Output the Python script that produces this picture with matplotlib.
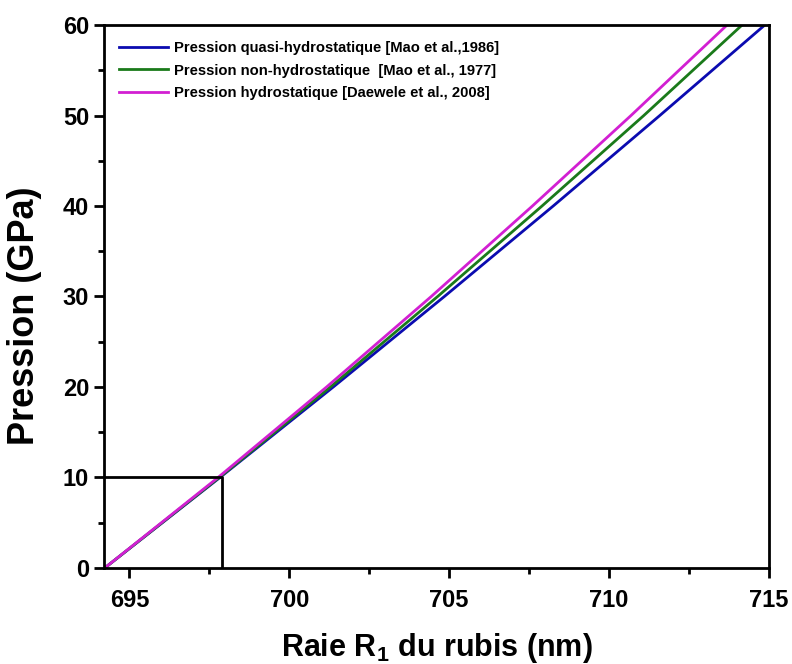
import matplotlib
matplotlib.use("Agg")
import matplotlib.pyplot as plt
from matplotlib.ticker import MultipleLocator

plt.rcParams['font.family'] = ['Liberation Sans', 'DejaVu Sans']
plt.rcParams['font.weight'] = 'bold'
plt.rcParams['mathtext.fontset'] = 'custom'
plt.rcParams['mathtext.rm'] = 'Liberation Sans'

# pressure (GPa) and ruby R1 line position (nm)
pression = [0, 10, 20, 30, 40, 50, 60]
raie_quasi = [694.24, 697.84, 701.38, 704.85, 708.25, 711.58, 714.86]
raie_non = [694.24, 697.82, 701.29, 704.64, 707.90, 711.08, 714.15]
raie_hydro = [694.24, 697.78, 701.17, 704.44, 707.60, 710.68, 713.68]

labels = ["Pression quasi-hydrostatique [Mao et al.,1986]",
          "Pression non-hydrostatique  [Mao et al., 1977]",
          "Pression hydrostatique [Daewele et al., 2008]"]
colors = ["#0b0bb0", "#1a7a1a", "#d21fd2"]

# reference mark (10 GPa)
ref_p = 10
ref_x = 697.9

fig = plt.figure(figsize=(7.92, 6.64), dpi=100)
ax = fig.add_axes([0.131, 0.145, 0.84, 0.817])

for xs, lab, c in zip([raie_quasi, raie_non, raie_hydro], labels, colors):
    ax.plot(xs, pression, color=c, lw=2, label=lab)

ax.plot([694.2, ref_x, ref_x], [ref_p, ref_p, 0], color="black", lw=2)

ax.set_xlim(694.2, 715)
ax.set_ylim(0, 60)
ax.xaxis.set_major_locator(MultipleLocator(5))
ax.xaxis.set_minor_locator(MultipleLocator(2.5))
ax.yaxis.set_major_locator(MultipleLocator(10))
ax.yaxis.set_minor_locator(MultipleLocator(5))
ax.tick_params(which='major', direction='out', length=7, width=2, labelsize=17)
ax.tick_params(axis='x', which='major', pad=8)
ax.tick_params(which='minor', direction='out', length=4, width=2)
for lbl in ax.get_xticklabels() + ax.get_yticklabels():
    lbl.set_fontweight('bold')
for s in ax.spines.values():
    s.set_linewidth(2)

ax.set_xlabel("Raie R$_\\mathregular{1}$ du rubis (nm)", fontsize=22, fontweight='bold', labelpad=14)
ax.set_ylabel("Pression (GPa)", fontsize=26, fontweight='bold')
ax.yaxis.set_label_coords(-0.093, 0.465)

leg = ax.legend(loc='upper left', frameon=False,
                prop={'family': ['Liberation Sans Narrow', 'Liberation Sans'], 'weight': 'bold', 'size': 10.6},
                handlelength=3.3, labelspacing=0.6, borderaxespad=0.65, handletextpad=0.45)

fig.savefig("out.png", dpi=100)
